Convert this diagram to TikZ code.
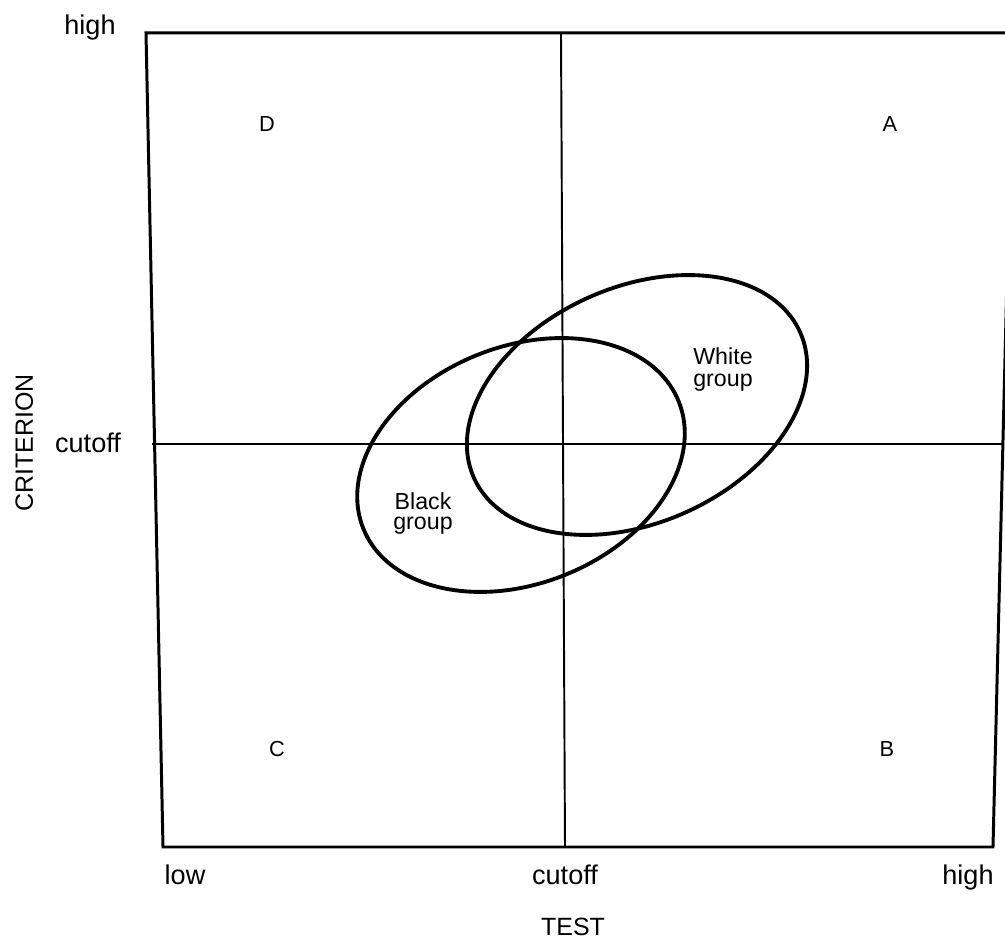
\documentclass[tikz,border=0pt]{standalone}
\usepackage{fontspec}
\setmainfont{Liberation Sans}
\begin{document}
\begin{tikzpicture}[x=0.01cm,y=-0.01cm,
  frame/.style={line width=0.85pt,line join=miter},
  cutline/.style={line width=0.55pt},
  group/.style={line width=1.1pt},
  axislabel/.style={anchor=base,inner sep=0pt,font=\fontsize{7.7}{9}\selectfont},
  axistitle/.style={anchor=base,inner sep=0pt,font=\fontsize{7.1}{9}\selectfont},
  quad/.style={anchor=base,inner sep=0pt,font=\fontsize{6.2}{7}\selectfont},
  grouplabel/.style={anchor=base,inner sep=0pt,font=\fontsize{6.6}{7}\selectfont}]
\useasboundingbox (0,0) rectangle (1005,943);
% frame corners
\coordinate (tl) at (146,33);
\coordinate (tr) at (1013,33);
\coordinate (br) at (993,847);
\coordinate (bl) at (163,847);
\draw[frame] (tr) -- (tl) -- (bl) -- (br) -- (tr);
% cutoff lines
\coordinate (vt) at (561,33);
\coordinate (vb) at (565,847);
\coordinate (hl) at (152,444);
\coordinate (hr) at (1002,444);
\draw[cutline] (vt) -- (vb);
\draw[cutline] (hl) -- (hr);
% groups
\draw[group,rotate around={24:(637,405)}] (637,405) ellipse [x radius=178.6, y radius=117.9];
\draw[group,rotate around={22:(521,465)}] (521,465) ellipse [x radius=170, y radius=118.4];
% labels
\node[axislabel] (hightop) at (90,35) {high};
\node[axislabel] (cutoffy) at (88,453) {cutoff};
\node[axistitle,rotate=90] (crit) at (33,443) {CRITERION};
\node[axislabel] (low) at (185,885) {low};
\node[axislabel] (cutoffx) at (565,885) {cutoff};
\node[axislabel] (highx) at (968,885) {high};
\node[axistitle] (test) at (573,936) {TEST};
\node[quad] (D) at (267,132) {D};
\node[quad] (A) at (890,132) {A};
\node[quad] (C) at (277,757) {C};
\node[quad] (B) at (887,757) {B};
\node[grouplabel] (white1) at (723,365) {White};
\node[grouplabel] (white2) at (723,387) {group};
\node[grouplabel] (black1) at (423,510) {Black};
\node[grouplabel] (black2) at (423,530) {group};
\end{tikzpicture}
\end{document}
